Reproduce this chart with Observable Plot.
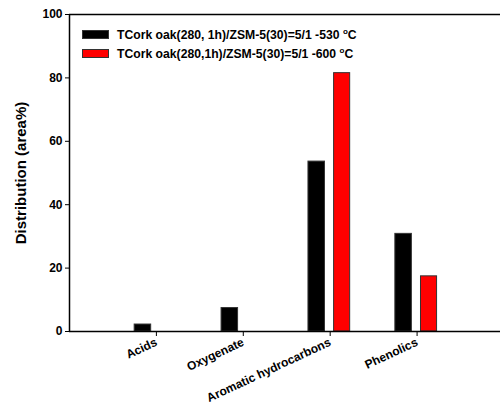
<!DOCTYPE html>
<html>
<head>
<meta charset="utf-8">
<script src="https://cdn.jsdelivr.net/npm/d3@7"></script>
<script src="https://cdn.jsdelivr.net/npm/@observablehq/plot@0.6"></script>
<style>
  body { margin: 0; background: #fff; }
  #wrap { position: relative; width: 500px; height: 414px; font-family: "Liberation Sans", Arial, sans-serif; }
  #legend { position: absolute; left: 82px; top: 25px; font-weight: bold; font-size: 12.2px; color: #000; }
  .item { display: flex; align-items: center; height: 19px; }
  .sw { width: 27px; height: 9px; border: 1px solid #333; margin-right: 8px; box-sizing: border-box; }
  sup { font-size: 8px; vertical-align: 5px; line-height: 0; }
</style>
</head>
<body>
<div id="wrap"></div>
<script>
const categories = ["Acids", "Oxygenate", "Aromatic hydrocarbons", "Phenolics"];
const series = ["TCork oak(280, 1h)/ZSM-5(30)=5/1 -530 °C", "TCork oak(280,1h)/ZSM-5(30)=5/1 -600 °C"];
const values530 = [2.2, 7.4, 53.6, 30.8];
const values600 = [0, 0, 81.5, 17.4];
const colors = ["#000000", "#ff0000"];
const yTicks = [0, 20, 40, 60, 80, 100];

// bar offsets relative to each category tick (in category units)
const offsets = [[-0.25, -0.06], [0.045, 0.23]];
const rows = [];
[values530, values600].forEach((vals, s) => {
  vals.forEach((v, i) => {
    if (v > 0) rows.push({cat: categories[i], pos: i + 1, s, v,
      x1: i + 1 + offsets[s][0], x2: i + 1 + offsets[s][1]});
  });
});

const chart = Plot.plot({
  width: 500,
  height: 414,
  marginLeft: 69,
  marginRight: 0,
  marginTop: 14,
  marginBottom: 83,
  style: {fontFamily: "Liberation Sans, Arial, sans-serif", fontWeight: "bold", fontSize: "12px", color: "#000"},
  x: {domain: [0, 4.96], ticks: [1, 2, 3, 4], tickFormat: d => categories[d - 1]},
  y: {domain: [0, 100], ticks: yTicks},
  marks: [
    Plot.rectY(rows, {x1: "x1", x2: "x2", y1: 0, y2: "v", fill: d => colors[d.s], stroke: "#333", strokeWidth: 1}),
    Plot.axisY({ticks: yTicks, tickSize: 4, tickPadding: 3, label: "Distribution (area%)", labelAnchor: "center", labelArrow: "none", labelOffset: 54, fontSize: 12}),
    Plot.axisX({ticks: [1, 2, 3, 4], tickFormat: d => categories[d - 1], tickSize: 5, tickPadding: 5, tickRotate: -25, label: null, fontSize: 12}),
    Plot.ruleY([0], {stroke: "#000", strokeWidth: 1.5}),
    Plot.ruleY([100], {stroke: "#000", strokeWidth: 1.5}),
    Plot.ruleX([0], {stroke: "#000", strokeWidth: 1.5})
  ]
});
chart.querySelectorAll("[aria-label='y-axis label'] text").forEach(t => t.setAttribute("font-size", "15"));

const wrap = document.getElementById("wrap");
wrap.appendChild(chart);
const legend = document.createElement("div");
legend.id = "legend";
series.forEach((name, i) => {
  const item = document.createElement("div");
  item.className = "item";
  const sw = document.createElement("div");
  sw.className = "sw";
  sw.style.background = colors[i];
  const lab = document.createElement("span");
  lab.innerHTML = name.replace("°C", "<sup>o</sup>C");
  item.appendChild(sw);
  item.appendChild(lab);
  legend.appendChild(item);
});
wrap.appendChild(legend);
</script>
</body>
</html>
